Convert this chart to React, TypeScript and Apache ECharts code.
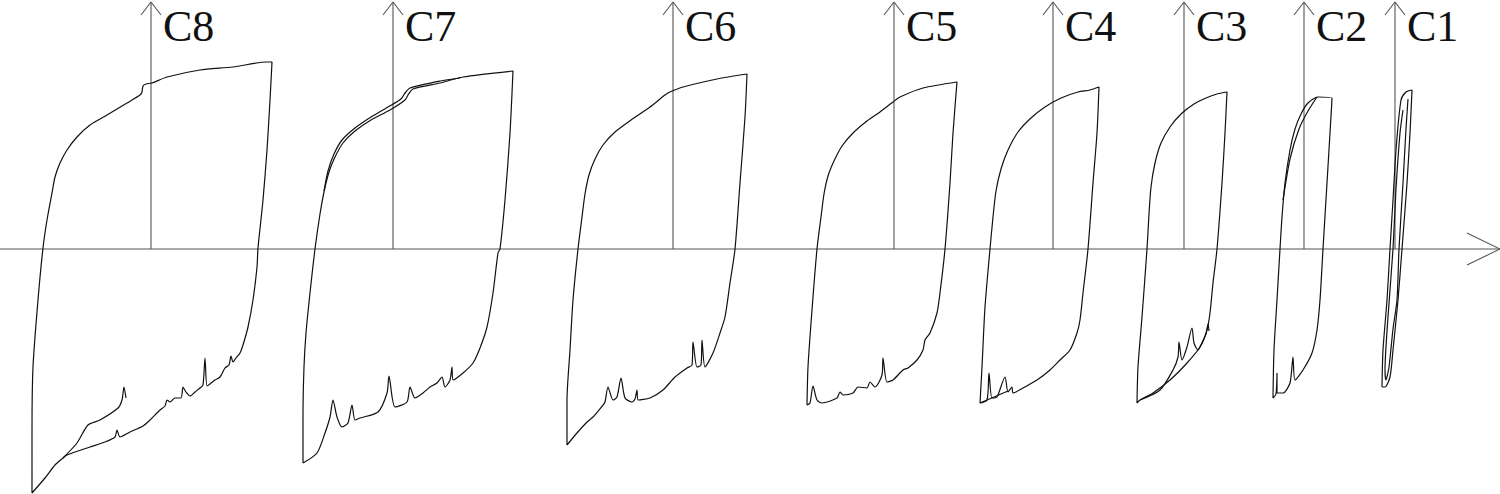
import React, { useEffect, useRef } from "react";
import * as echarts from "echarts";

// Loop labels and the displacement origin of each loop (x units)
const labels = ["C8", "C7", "C6", "C5", "C4", "C3", "C2", "C1"];
const origins = [151, 393, 673, 894, 1053, 1184, 1304, 1395];

// Each loop: [displacement relative to own origin, load]
const c8Main = [[-119,-244],[-119,-184],[-118,-118],[-113,-51],[-108,1],[-104,29],[-99,56],[-96,72],[-91,86],[-84,99],[-74,112],[-61,124],[-44,134],[-24,146],[-11,154],[-9,157],[-8,163],[-5,165],[1,166],[16,172],[49,179],[82,182],[116,187],[121,187],[119,149],[116,99],[112,49],[107,1],[106,-18],[102,-51],[97,-78],[92,-96],[89,-104],[85,-109],[82,-113],[80,-107],[78,-116],[74,-119],[69,-128],[64,-131],[59,-135],[56,-137],[54,-109],[52,-136],[49,-139],[44,-143],[39,-147],[35,-143],[32,-138],[30,-149],[24,-149],[19,-153],[16,-151],[14,-157],[9,-161],[-1,-171],[-8,-177],[-21,-183],[-31,-188],[-34,-181],[-36,-188],[-46,-193],[-61,-198],[-84,-206],[-88,-209],[-96,-216],[-106,-229],[-119,-244]];
const c8Branch = [[-88,-209],[-74,-194],[-63,-176],[-51,-171],[-33,-159],[-29,-151],[-27,-138],[-25,-149]];
const c7Main = [[-90,-214],[-90,-168],[-89,-118],[-87,-84],[-83,-44],[-78,0],[-73,35],[-69,57],[-64,77],[-58,92],[-50,106],[-38,118],[-22,129],[-3,139],[12,149],[15,154],[20,160],[47,166],[70,172],[120,178],[117,116],[112,49],[107,0],[105,-4],[100,-44],[94,-78],[87,-99],[80,-114],[70,-124],[60,-131],[59,-118],[57,-131],[52,-138],[49,-128],[44,-134],[37,-138],[30,-144],[22,-149],[17,-138],[14,-153],[2,-158],[-4,-127],[-6,-144],[-15,-163],[-33,-169],[-38,-171],[-41,-156],[-45,-174],[-51,-178],[-56,-168],[-60,-151],[-63,-168],[-68,-184],[-76,-204],[-90,-214]];
const c7Branch = [[-69,58],[-65,78],[-59,95],[-51,109],[-38,121],[-22,132],[-5,142],[8,150],[12,156],[17,161],[47,168],[67,171]];
const c6Main = [[-106,-196],[-106,-151],[-103,-101],[-100,-51],[-95,0],[-91,32],[-88,55],[-84,74],[-78,90],[-70,104],[-58,117],[-42,129],[-23,142],[-8,154],[-3,157],[10,162],[44,170],[74,175],[72,132],[67,66],[62,0],[57,-34],[52,-68],[47,-84],[40,-104],[32,-118],[29,-91],[28,-116],[24,-118],[20,-93],[19,-116],[14,-119],[2,-128],[-10,-141],[-23,-149],[-35,-151],[-36,-141],[-38,-150],[-41,-153],[-48,-149],[-52,-129],[-56,-148],[-60,-151],[-65,-138],[-68,-153],[-70,-156],[-80,-168],[-86,-173],[-96,-184],[-106,-196]];
const c5Main = [[-87,-156],[-86,-118],[-82,-61],[-77,0],[-73,32],[-70,55],[-66,73],[-60,88],[-52,103],[-41,116],[-27,128],[-14,137],[-1,147],[6,152],[29,161],[63,167],[59,116],[56,66],[51,0],[46,-44],[43,-64],[36,-84],[31,-91],[29,-101],[23,-111],[14,-119],[9,-121],[-1,-131],[-7,-133],[-11,-109],[-12,-126],[-19,-138],[-24,-133],[-27,-139],[-36,-138],[-41,-144],[-51,-146],[-54,-143],[-57,-149],[-72,-154],[-77,-151],[-81,-137],[-84,-154],[-87,-156]];
const c4Main = [[-73,-154],[-71,-118],[-68,-58],[-63,0],[-60,32],[-57,58],[-52,80],[-45,99],[-35,117],[-22,131],[-8,142],[8,151],[25,157],[37,159],[46,162],[44,116],[40,66],[35,0],[30,-44],[27,-71],[24,-84],[17,-101],[7,-111],[-3,-121],[-16,-131],[-30,-139],[-40,-144],[-41,-138],[-45,-143],[-48,-128],[-56,-148],[-61,-149],[-64,-124],[-66,-151],[-73,-154]];
const c4Branch = [[-73,-154],[-45,-142]];
const c3Main = [[-47,-154],[-46,-118],[-42,-68],[-37,0],[-35,35],[-33,62],[-29,86],[-23,106],[-14,122],[-3,135],[10,145],[22,151],[33,155],[43,157],[41,116],[38,66],[33,0],[29,-34],[26,-64],[23,-81],[16,-98],[3,-114],[-14,-131],[-31,-144],[-44,-151],[-47,-154]];
const c3Branch = [[-44,-151],[-24,-141],[-11,-121],[-6,-108],[-5,-93],[-2,-111],[3,-98],[8,-79],[10,-94],[14,-101],[16,-98],[22,-85],[24,-75],[25,-82]];
const c2Main = [[-31,-149],[-30,-101],[-27,-51],[-24,0],[-22,32],[-19,66],[-14,99],[-9,120],[-3,135],[4,146],[14,152],[28,151],[26,116],[23,66],[19,0],[16,-51],[13,-81],[8,-104],[-1,-121],[-9,-131],[-11,-108],[-14,-134],[-21,-144],[-27,-144],[-27,-124],[-28,-145],[-31,-149]];
const c2Branch = [[-21,49],[-14,90],[-5,120],[4,138],[13,152]];
const c1Main = [[-13,-138],[-12,-101],[-8,-51],[-5,0],[-2,49],[1,99],[6,149],[11,157],[17,159],[15,116],[12,66],[7,0],[3,-51],[-2,-101],[-5,-128],[-10,-138],[-13,-138]];
const c1Branch = [[8,139],[5,116],[1,60],[-2,0],[-7,-68],[-10,-121],[-9,-131],[-6,-118],[-2,-80],[2,-51],[4,0],[8,66],[11,120],[13,150]];

const loopSegments = [
  [c8Main, c8Branch],
  [c7Main, c7Branch],
  [c6Main],
  [c5Main],
  [c4Main, c4Branch],
  [c3Main, c3Branch],
  [c2Main, c2Branch],
  [c1Main, c1Branch],
];

const xRange = [0, 1500];
const yRange = [-245, 249];
const axisTop = 247;

export default function App() {
  const ref = useRef<HTMLDivElement>(null);
  useEffect(() => {
    document.body.style.margin = "0";
    const chart = echarts.init(ref.current!, null, { renderer: "svg" });
    const lineColor = "#111111";
    const axisColor = "#555555";
    const series: any[] = [];
    const mk = (data: number[][], color: string, width: number, smooth: number) => ({
      type: "line",
      data,
      showSymbol: false,
      symbol: "none",
      silent: true,
      smooth,
      lineStyle: { color, width },
      z: 2,
    });
    // horizontal axis with open arrow
    series.push(mk([[xRange[0], 0], [xRange[1], 0]], axisColor, 1.1, 0));
    series.push(mk([[xRange[1] - 33, 16], [xRange[1], 0], [xRange[1] - 33, -16]], axisColor, 1.1, 0));
    origins.forEach((o, i) => {
      series.push(mk([[o, 0], [o, axisTop]], axisColor, 1.1, 0));
      series.push(mk([[o - 10, axisTop - 13], [o, axisTop], [o + 10, axisTop - 13]], axisColor, 1.1, 0));
      loopSegments[i].forEach((seg) => {
        series.push(mk(seg.map(([dx, f]) => [o + dx, f]), lineColor, 1.2, 0.25));
      });
    });
    chart.setOption({
      animation: false,
      backgroundColor: "#ffffff",
      grid: { left: 0, right: 0, top: 0, bottom: 0 },
      xAxis: { type: "value", min: xRange[0], max: xRange[1], show: false },
      yAxis: { type: "value", min: yRange[0], max: yRange[1], show: false },
      series,
    });
    // loop labels placed next to each vertical arrow, via the chart's own scales
    const graphic = origins.map((o, i) => {
      const [px, py] = chart.convertToPixel({ gridIndex: 0 }, [o, axisTop]) as number[];
      return {
        type: "text",
        x: px + 12,
        y: py + 2,
        silent: true,
        style: {
          text: labels[i],
          fontSize: 44,
          fontFamily: "Liberation Serif",
          fill: "#111111",
          textVerticalAlign: "top",
          verticalAlign: "top",
        },
      };
    });
    chart.setOption({ graphic });
    return () => chart.dispose();
  }, []);
  return <div ref={ref} style={{ width: 1500, height: 494 }} />;
}
